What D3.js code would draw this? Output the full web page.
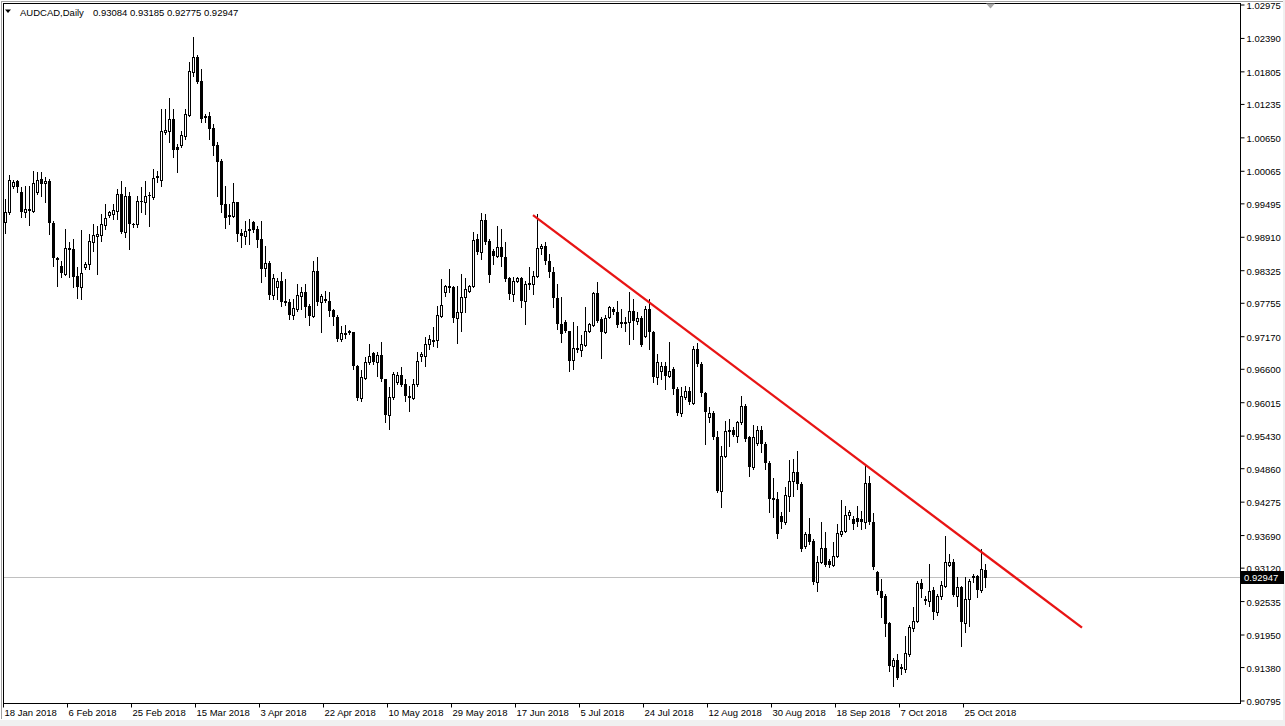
<!DOCTYPE html>
<html><head><meta charset="utf-8">
<script src="https://cdn.jsdelivr.net/npm/d3@7"></script>
<style>html,body{margin:0;padding:0;background:#fff;overflow:hidden}svg{display:block}</style>
</head><body><svg id="c" width="1285" height="726"></svg>
<script>
const symbolTitle = "AUDCAD,Daily";
const headerValues = ["0.93084", "0.93185", "0.92775", "0.92947"];
const xTickLabels = ["18 Jan 2018","6 Feb 2018","25 Feb 2018","15 Mar 2018","3 Apr 2018","22 Apr 2018","10 May 2018","29 May 2018","17 Jun 2018","5 Jul 2018","24 Jul 2018","12 Aug 2018","30 Aug 2018","18 Sep 2018","7 Oct 2018","25 Oct 2018"];
const xTickBars = [0,16,32,48,64,80,96,112,128,144,160,176,192,208,224,240];
const yTickValues = [1.02975,1.02390,1.01805,1.01235,1.00650,1.00065,0.99495,0.98910,0.98325,0.97755,0.97170,0.96600,0.96015,0.95430,0.94860,0.94275,0.93690,0.93120,0.92535,0.91950,0.91380,0.90795];

const open = [0.9917,0.9934,0.9980,0.9989,0.9969,0.9934,0.9940,0.9936,0.9969,0.9992,
0.9985,0.9989,0.9915,0.9854,0.9840,0.9826,0.9871,0.9870,0.9822,0.9803,
0.9838,0.9843,0.9882,0.9892,0.9894,0.9912,0.9929,0.9931,0.9936,0.9966,
0.9899,0.9962,0.9913,0.9913,0.9954,0.9952,0.9964,0.9961,0.9997,0.9990,
1.0074,1.0076,1.0097,1.0048,1.0052,1.0067,1.0104,1.0179,1.0206,1.0164,
1.0102,1.0102,1.0081,1.0052,1.0024,0.9948,0.9927,0.9927,0.9952,0.9898,
0.9892,0.9905,0.9917,0.9905,0.9887,0.9836,0.9845,0.9789,0.9803,0.9814,
0.9779,0.9777,0.9754,0.9765,0.9787,0.9794,0.9770,0.9752,0.9831,0.9777,
0.9782,0.9779,0.9763,0.9751,0.9712,0.9721,0.9726,0.9724,0.9665,0.9609,
0.9644,0.9672,0.9688,0.9672,0.9684,0.9642,0.9579,0.9611,0.9637,0.9649,
0.9633,0.9612,0.9609,0.9633,0.9682,0.9682,0.9703,0.9709,0.9710,0.9752,
0.9794,0.9805,0.9803,0.9749,0.9759,0.9786,0.9796,0.9805,0.9887,0.9864,
0.9920,0.9884,0.9866,0.9857,0.9873,0.9856,0.9819,0.9791,0.9814,0.9819,
0.9779,0.9810,0.9808,0.9822,0.9871,0.9875,0.9849,0.9829,0.9784,0.9738,
0.9742,0.9726,0.9675,0.9696,0.9693,0.9702,0.9726,0.9737,0.9793,0.9747,
0.9724,0.9751,0.9765,0.9759,0.9742,0.9740,0.9742,0.9761,0.9744,0.9749,
0.9717,0.9765,0.9724,0.9646,0.9656,0.9665,0.9647,0.9660,0.9625,0.9583,
0.9611,0.9621,0.9600,0.9695,0.9668,0.9618,0.9576,0.9583,0.9541,0.9446,
0.9507,0.9553,0.9553,0.9542,0.9567,0.9595,0.9541,0.9488,0.9530,0.9553,
0.9528,0.9495,0.9434,0.9432,0.9402,0.9392,0.9437,0.9464,0.9479,0.9458,
0.9350,0.9371,0.9359,0.9287,0.9322,0.9346,0.9324,0.9317,0.9332,0.9371,
0.9376,0.9404,0.9397,0.9399,0.9397,0.9392,0.9460,0.9392,0.9304,0.9271,
0.9262,0.9215,0.9140,0.9150,0.9138,0.9135,0.9161,0.9206,0.9219,0.9285,
0.9257,0.9254,0.9273,0.9234,0.9262,0.9280,0.9317,0.9322,0.9262,0.9278,
0.9215,0.9257,0.9297,0.9297,0.9273,0.93084];

const high = [0.9957,0.9999,0.9990,0.9990,0.9978,0.9980,0.9980,1.0006,1.0004,1.0004,
0.9996,0.9992,0.9919,0.9856,0.9849,0.9905,0.9882,0.9887,0.9838,0.9903,
0.9847,0.9896,0.9913,0.9910,0.9931,0.9948,0.9936,0.9948,0.9975,0.9989,
0.9978,0.9969,0.9915,0.9962,0.9978,0.9989,0.9969,1.0010,1.0006,1.0115,
1.0115,1.0134,1.0115,1.0053,1.0076,1.0115,1.0197,1.0241,1.0209,1.0185,
1.0106,1.0109,1.0088,1.0057,1.0027,0.9980,0.9948,0.9985,0.9952,0.9905,
0.9919,0.9922,0.9919,0.9910,0.9919,0.9875,0.9849,0.9826,0.9819,0.9829,
0.9817,0.9782,0.9782,0.9808,0.9803,0.9808,0.9773,0.9849,0.9856,0.9791,
0.9796,0.9794,0.9765,0.9754,0.9735,0.9737,0.9728,0.9724,0.9667,0.9658,
0.9681,0.9703,0.9689,0.9689,0.9707,0.9642,0.9628,0.9654,0.9654,0.9663,
0.9642,0.9630,0.9642,0.9689,0.9689,0.9716,0.9719,0.9733,0.9770,0.9817,
0.9807,0.9835,0.9805,0.9805,0.9826,0.9819,0.9807,0.9899,0.9896,0.9933,
0.9931,0.9887,0.9870,0.9910,0.9905,0.9882,0.9821,0.9821,0.9821,0.9821,
0.9814,0.9838,0.9831,0.9931,0.9878,0.9882,0.9861,0.9838,0.9808,0.9786,
0.9745,0.9726,0.9742,0.9735,0.9719,0.9768,0.9740,0.9794,0.9812,0.9751,
0.9754,0.9770,0.9768,0.9779,0.9765,0.9751,0.9794,0.9782,0.9759,0.9752,
0.9770,0.9782,0.9726,0.9686,0.9672,0.9672,0.9707,0.9663,0.9628,0.9628,
0.9630,0.9628,0.9700,0.9705,0.9672,0.9619,0.9593,0.9586,0.9551,0.9525,
0.9569,0.9572,0.9558,0.9569,0.9612,0.9598,0.9542,0.9562,0.9560,0.9560,
0.9532,0.9499,0.9469,0.9444,0.9409,0.9453,0.9500,0.9502,0.9516,0.9462,
0.9374,0.9399,0.9362,0.9332,0.9392,0.9374,0.9327,0.9357,0.9388,0.9430,
0.9420,0.9413,0.9402,0.9420,0.9411,0.9490,0.9472,0.9408,0.9306,0.9292,
0.9266,0.9217,0.9154,0.9161,0.9143,0.9192,0.9212,0.9243,0.9289,0.9292,
0.9262,0.9318,0.9278,0.9266,0.9289,0.9367,0.9336,0.9327,0.9296,0.9280,
0.9296,0.9292,0.9301,0.9299,0.9345,0.93185];

const low = [0.9898,0.9931,0.9976,0.9969,0.9926,0.9926,0.9912,0.9934,0.9966,0.9962,
0.9952,0.9896,0.9840,0.9805,0.9821,0.9824,0.9821,0.9803,0.9784,0.9782,
0.9835,0.9835,0.9866,0.9826,0.9884,0.9905,0.9926,0.9922,0.9922,0.9898,
0.9891,0.9870,0.9908,0.9908,0.9934,0.9931,0.9910,0.9957,0.9987,0.9980,
1.0071,1.0057,1.0031,1.0004,1.0048,1.0062,1.0102,1.0172,1.0160,1.0092,
1.0092,1.0062,1.0034,0.9962,0.9934,0.9906,0.9913,0.9926,0.9884,0.9873,
0.9878,0.9878,0.9899,0.9873,0.9812,0.9822,0.9782,0.9782,0.9782,0.9770,
0.9772,0.9747,0.9747,0.9761,0.9765,0.9751,0.9737,0.9751,0.9772,0.9724,
0.9777,0.9752,0.9737,0.9709,0.9709,0.9714,0.9721,0.9660,0.9605,0.9604,
0.9642,0.9668,0.9668,0.9647,0.9639,0.9567,0.9555,0.9607,0.9633,0.9630,
0.9604,0.9586,0.9607,0.9630,0.9674,0.9665,0.9695,0.9700,0.9698,0.9751,
0.9787,0.9794,0.9742,0.9705,0.9726,0.9759,0.9794,0.9803,0.9861,0.9852,
0.9878,0.9812,0.9843,0.9856,0.9840,0.9814,0.9782,0.9779,0.9812,0.9768,
0.9738,0.9800,0.9791,0.9821,0.9861,0.9843,0.9821,0.9768,0.9730,0.9707,
0.9724,0.9656,0.9660,0.9689,0.9682,0.9700,0.9724,0.9735,0.9742,0.9679,
0.9723,0.9749,0.9756,0.9733,0.9733,0.9726,0.9703,0.9712,0.9738,0.9700,
0.9716,0.9695,0.9637,0.9633,0.9642,0.9625,0.9646,0.9616,0.9579,0.9577,
0.9607,0.9598,0.9598,0.9665,0.9612,0.9528,0.9567,0.9537,0.9444,0.9418,
0.9506,0.9525,0.9542,0.9532,0.9563,0.9534,0.9472,0.9485,0.9527,0.9514,
0.9485,0.9409,0.9401,0.9364,0.9381,0.9388,0.9411,0.9437,0.9450,0.9341,
0.9346,0.9353,0.9283,0.9271,0.9320,0.9315,0.9313,0.9315,0.9331,0.9367,
0.9374,0.9397,0.9380,0.9385,0.9380,0.9381,0.9388,0.9310,0.9266,0.9226,
0.9192,0.9131,0.9105,0.9117,0.9126,0.9129,0.9157,0.9201,0.9217,0.9261,
0.9248,0.9245,0.9222,0.9229,0.9257,0.9278,0.9315,0.9262,0.9245,0.9175,
0.9199,0.9210,0.9287,0.9261,0.9269,0.92775];

const close = [0.9934,0.9990,0.9987,0.9978,0.9934,0.9940,0.9936,0.9985,0.9990,0.9983,
0.9989,0.9915,0.9854,0.9850,0.9828,0.9871,0.9868,0.9821,0.9803,0.9828,
0.9843,0.9884,0.9894,0.9896,0.9913,0.9924,0.9934,0.9938,0.9966,0.9899,
0.9962,0.9913,0.9912,0.9954,0.9952,0.9962,0.9962,0.9994,0.9994,1.0076,
1.0078,1.0097,1.0043,1.0043,1.0069,1.0106,1.0181,1.0206,1.0162,1.0097,
1.0099,1.0080,1.0050,1.0022,0.9947,0.9924,0.9929,0.9952,0.9896,0.9892,
0.9901,0.9901,0.9903,0.9885,0.9835,0.9845,0.9789,0.9819,0.9814,0.9777,
0.9775,0.9754,0.9766,0.9789,0.9794,0.9768,0.9752,0.9831,0.9777,0.9787,
0.9779,0.9761,0.9751,0.9712,0.9723,0.9723,0.9723,0.9665,0.9609,0.9646,
0.9672,0.9682,0.9672,0.9684,0.9642,0.9579,0.9611,0.9651,0.9649,0.9632,
0.9612,0.9609,0.9633,0.9674,0.9686,0.9703,0.9712,0.9710,0.9754,0.9772,
0.9805,0.9801,0.9749,0.9759,0.9786,0.9800,0.9805,0.9885,0.9864,0.9920,
0.9882,0.9824,0.9857,0.9873,0.9856,0.9817,0.9791,0.9814,0.9819,0.9779,
0.9808,0.9807,0.9822,0.9871,0.9875,0.9849,0.9829,0.9784,0.9738,0.9721,
0.9726,0.9674,0.9696,0.9693,0.9703,0.9726,0.9738,0.9793,0.9744,0.9724,
0.9749,0.9768,0.9759,0.9737,0.9738,0.9742,0.9761,0.9744,0.9749,0.9702,
0.9765,0.9724,0.9646,0.9672,0.9665,0.9647,0.9656,0.9625,0.9583,0.9612,
0.9621,0.9602,0.9695,0.9668,0.9618,0.9584,0.9583,0.9541,0.9446,0.9507,
0.9551,0.9549,0.9544,0.9567,0.9595,0.9537,0.9488,0.9541,0.9553,0.9528,
0.9495,0.9432,0.9430,0.9371,0.9392,0.9439,0.9464,0.9479,0.9458,0.9345,
0.9371,0.9357,0.9287,0.9322,0.9346,0.9317,0.9317,0.9332,0.9373,0.9376,
0.9404,0.9409,0.9388,0.9392,0.9392,0.9460,0.9392,0.9313,0.9271,0.9259,
0.9213,0.9140,0.9150,0.9119,0.9135,0.9163,0.9208,0.9219,0.9285,0.9275,
0.9254,0.9271,0.9234,0.9262,0.9282,0.9322,0.9322,0.9264,0.9278,0.9217,
0.9257,0.9289,0.9294,0.9273,0.9310,0.92947];

// trend line drawn on the chart: [bar index, price]
const trendBars = [132, 269.25];
const trendPrices = [0.9929, 0.9207];
const lastPrice = 0.92947;

const FONT = "'Liberation Sans', Arial, sans-serif";
const svg = d3.select("#c");
const L = 3, R = 1240, T = 3, B = 703;

svg.append("rect").attr("width",1285).attr("height",726).attr("fill","#ffffff");
svg.append("rect").attr("x",0).attr("y",720).attr("width",1285).attr("height",6).attr("fill","#f0f0f0");
svg.append("rect").attr("x",1283).attr("y",0).attr("width",2).attr("height",726).attr("fill","#f0f0f0");
svg.append("line").attr("x1",1.5).attr("x2",1.5).attr("y1",1).attr("y2",719).attr("stroke","#a0a0a0");
svg.append("line").attr("x1",1).attr("x2",1283).attr("y1",1.5).attr("y2",1.5).attr("stroke","#a0a0a0");

const x = d3.scaleLinear().domain([-0.5, 308.75]).range([L, R]);
const y = d3.scaleLinear().domain([0.90795, 1.02975]).range([700.5, 4.5]);

const bars = open.map((o,i)=>({i, o, h:high[i], l:low[i], c:close[i]}));

// price line
const py = Math.floor(y(lastPrice)) + 0.5;
svg.append("line").attr("x1",L).attr("x2",R).attr("y1",py).attr("y2",py).attr("stroke","#c0c0c0").attr("stroke-width",1);

const g = svg.append("g");
// wicks
g.selectAll("line.w").data(bars).join("line").attr("class","w")
  .attr("x1",d=>Math.round(x(d.i))+0.5).attr("x2",d=>Math.round(x(d.i))+0.5)
  .attr("y1",d=>Math.round(y(d.h))).attr("y2",d=>Math.round(y(d.l))+1)
  .attr("stroke","#000").attr("stroke-width",1);
// bodies
bars.forEach(d=>{
  const cx = Math.round(x(d.i));
  const top = Math.round(y(Math.max(d.o,d.c)));
  const bot = Math.round(y(Math.min(d.o,d.c)));
  const hgt = bot - top;
  if (d.c < d.o || hgt <= 1) {
    g.append("rect").attr("x",cx-1).attr("y",top).attr("width",3).attr("height",Math.max(1,hgt+ (d.c<d.o?0:1)))
      .attr("fill","#000");
  } else {
    g.append("rect").attr("x",cx-0.5).attr("y",top+0.5).attr("width",2).attr("height",hgt)
      .attr("fill","#fff").attr("stroke","#000").attr("stroke-width",1);
  }
});

// trend line
svg.append("line")
  .attr("x1",x(trendBars[0])).attr("y1",y(trendPrices[0]))
  .attr("x2",x(trendBars[1])).attr("y2",y(trendPrices[1]))
  .attr("stroke","#e81414").attr("stroke-width",2.3);

// frame
svg.append("rect").attr("x",L+0.5).attr("y",T+0.5).attr("width",R-L).attr("height",B-T)
  .attr("fill","none").attr("stroke","#000").attr("stroke-width",1);

// y axis
const ya = svg.append("g").attr("transform",`translate(${R+0.5},0)`)
  .call(d3.axisRight(y).tickValues(yTickValues).tickSize(4).tickFormat(d3.format(".5f")));
ya.select(".domain").remove();
ya.selectAll("text").attr("font-family",FONT).attr("font-size","9.5px").attr("fill","#000").attr("x",6).attr("dy","0.42em");
ya.selectAll("line").attr("stroke","#000");

// x axis
const xa = svg.append("g").attr("transform",`translate(-2,${B+0.5})`)
  .call(d3.axisBottom(x).tickValues(xTickBars).tickSize(4).tickFormat((d,i)=>xTickLabels[i]));
xa.select(".domain").remove();
xa.selectAll("text").attr("font-family",FONT).attr("font-size","9.5px").attr("fill","#000")
  .attr("text-anchor","start").attr("x",1).attr("y",6);
xa.selectAll("line").attr("stroke","#000");

// last price box
svg.append("rect").attr("x",R+1).attr("y",Math.floor(py)-6).attr("width",43).attr("height",13).attr("fill","#000");
svg.append("text").attr("x",R+4).attr("y",Math.floor(py)+4).attr("font-family",FONT).attr("font-size","9.5px")
  .attr("fill","#fff").text(d3.format(".5f")(lastPrice));

// header
svg.append("path").attr("d","M5,9.5 L11,9.5 L8,13 Z").attr("fill","#000");
svg.append("text").attr("x",20).attr("y",16).attr("font-family",FONT).attr("font-size","9.5px").attr("fill","#000")
  .text(symbolTitle);
svg.append("text").attr("x",93).attr("y",16).attr("font-family",FONT).attr("font-size","9.5px").attr("fill","#000")
  .text(headerValues.join(" "));
// chart shift marker
svg.append("path").attr("d","M986,3.5 L995,3.5 L990.5,8.5 Z").attr("fill","#a8a8a8");
</script></body></html>
